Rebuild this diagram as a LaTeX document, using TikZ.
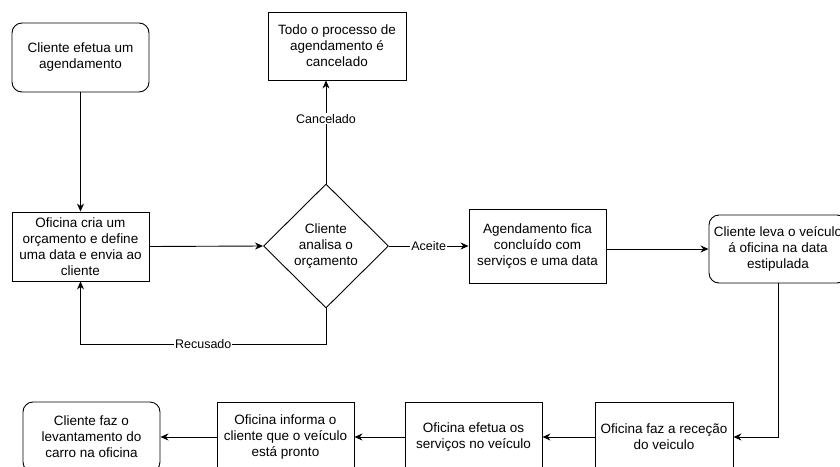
\documentclass[tikz,border=0pt]{standalone}
\usepackage{fontspec}
\setmainfont{Liberation Sans}
\usetikzlibrary{arrows.meta,shapes.geometric}
\begin{document}
\begin{tikzpicture}[x=1pt,y=-1pt,
        box/.style={draw,line width=0.9pt,align=center,inner sep=1pt,minimum width=137pt,minimum height=70pt,font=\fontsize{13.5}{16}\selectfont},
        roundbox/.style={box,rounded corners=10pt},
        choice/.style={draw,line width=0.9pt,diamond,align=center,inner sep=0pt,minimum width=125pt,minimum height=124pt,font=\fontsize{13.5}{16}\selectfont},
        flow/.style={draw,line width=0.9pt,-{Stealth[length=8pt,width=7pt]}},
        elabel/.style={fill=white,inner sep=1pt,font=\fontsize{12.5}{15}\selectfont}]
        \clip (0,0) rectangle (840,466);
        \node[roundbox,minimum height=69pt] (A) at (80.5,57.5) {Cliente efetua um\\agendamento};
        \node[box,minimum height=69pt] (B) at (80.5,246.5) {Oficina cria um\\orçamento e define\\uma data e envia ao\\cliente};
        \node[box,minimum width=138pt,minimum height=68pt] (C) at (337,46) {Todo o processo de\\agendamento é\\cancelado};
        \node[choice] (D) at (326,246) {Cliente\\analisa o\\orçamento};
        \node[box,minimum height=74pt] (E) at (537.5,246) {Agendamento fica\\concluído com\\serviços e uma data};
        \node[roundbox,minimum width=138pt,minimum height=68pt] (F) at (778,249) {Cliente leva o veículo\\á oficina na data\\estipulada};
        \node[box,minimum width=138pt] (G) at (664,437) {Oficina faz a receção\\do veiculo};
        \node[box] (H) at (473.5,437) {Oficina efetua os\\serviços no veículo};
        \node[box] (I) at (285.5,437) {Oficina informa o\\cliente que o veículo\\está pronto};
        \node[roundbox] (J) at (91.5,437) {Cliente faz o\\levantamento do\\carro na oficina};
        \coordinate (R1) at (326,344);
        \coordinate (R2) at (80.5,344);
        \draw[flow] (A) -- (B);
        \draw[flow] (B.east) -- (D.west);
        \draw[flow] (D.north) -- node[elabel,pos=0.63]{Cancelado} (D.north |- C.south);
        \draw[flow] (D.east) -- node[elabel]{Aceite} (E.west);
        \draw[flow] (D.south) -- (R1) -- node[elabel]{Recusado} (R2) -- (B.south);
        \draw[flow] (E.east |- F.west) -- (F.west);
        \draw[flow] (F.south) |- (G.east);
        \draw[flow] (G) -- (H);
        \draw[flow] (H) -- (I);
        \draw[flow] (I) -- (J);
    \end{tikzpicture}
\end{document}
